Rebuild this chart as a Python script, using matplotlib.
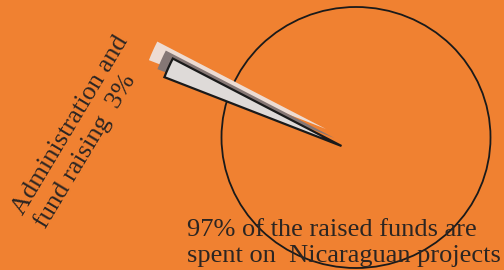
import matplotlib
matplotlib.use("Agg")
import matplotlib.pyplot as plt
from matplotlib.patches import Wedge, Ellipse

# Datos
labels = ["Administration and\nfund raising  3%",
          "97% of the raised funds are\nspent on  Nicaraguan projects"]
shares = [3, 97]

bg = "#F08131"
text_col = "#2B2522"

fig = plt.figure(figsize=(5.04, 2.70), dpi=100, facecolor=bg)
ax = fig.add_axes([0, 0, 1, 1])
ax.set_xlim(0, 504)
ax.set_ylim(0, 270)
ax.set_facecolor(bg)
ax.axis("off")

# Circulo del 97%
ax.add_patch(Ellipse((356, 132.5), 269, 261, fill=False,
                     edgecolor="#1A1A1A", lw=1.3, zorder=2))

# Rebanada del 3% (estirada y con sombra)
tip = (341.5, 124)
radius = 190
span = shares[0] / 100 * 360 * 0.57
theta1 = 152.6
theta2 = theta1 + span

capas = [((-15.5, 17), "#EDDCD3", "none"),
         ((-7, 8), "#857775", "none"),
         ((0, 0), "#DEDAD8", "#1A1A1A")]
for (dx, dy), fc, ec in capas:
    ax.add_patch(Wedge((tip[0] + dx, tip[1] + dy), radius, theta1, theta2,
                       facecolor=fc, edgecolor=ec, lw=1.6, zorder=3))

# Textos (va="baseline" se alinea con la ultima linea)
font = dict(family=["Liberation Serif", "DejaVu Serif"], size=19, color=text_col)
ax.text(43, 42, labels[0], rotation=59, rotation_mode="anchor",
        ha="left", va="baseline", linespacing=1.18, zorder=4, **font)
ax.text(187, 8, labels[1], ha="left", va="baseline",
        linespacing=1.26, zorder=4, **font)

fig.savefig("out.png", dpi=100, facecolor=bg)
